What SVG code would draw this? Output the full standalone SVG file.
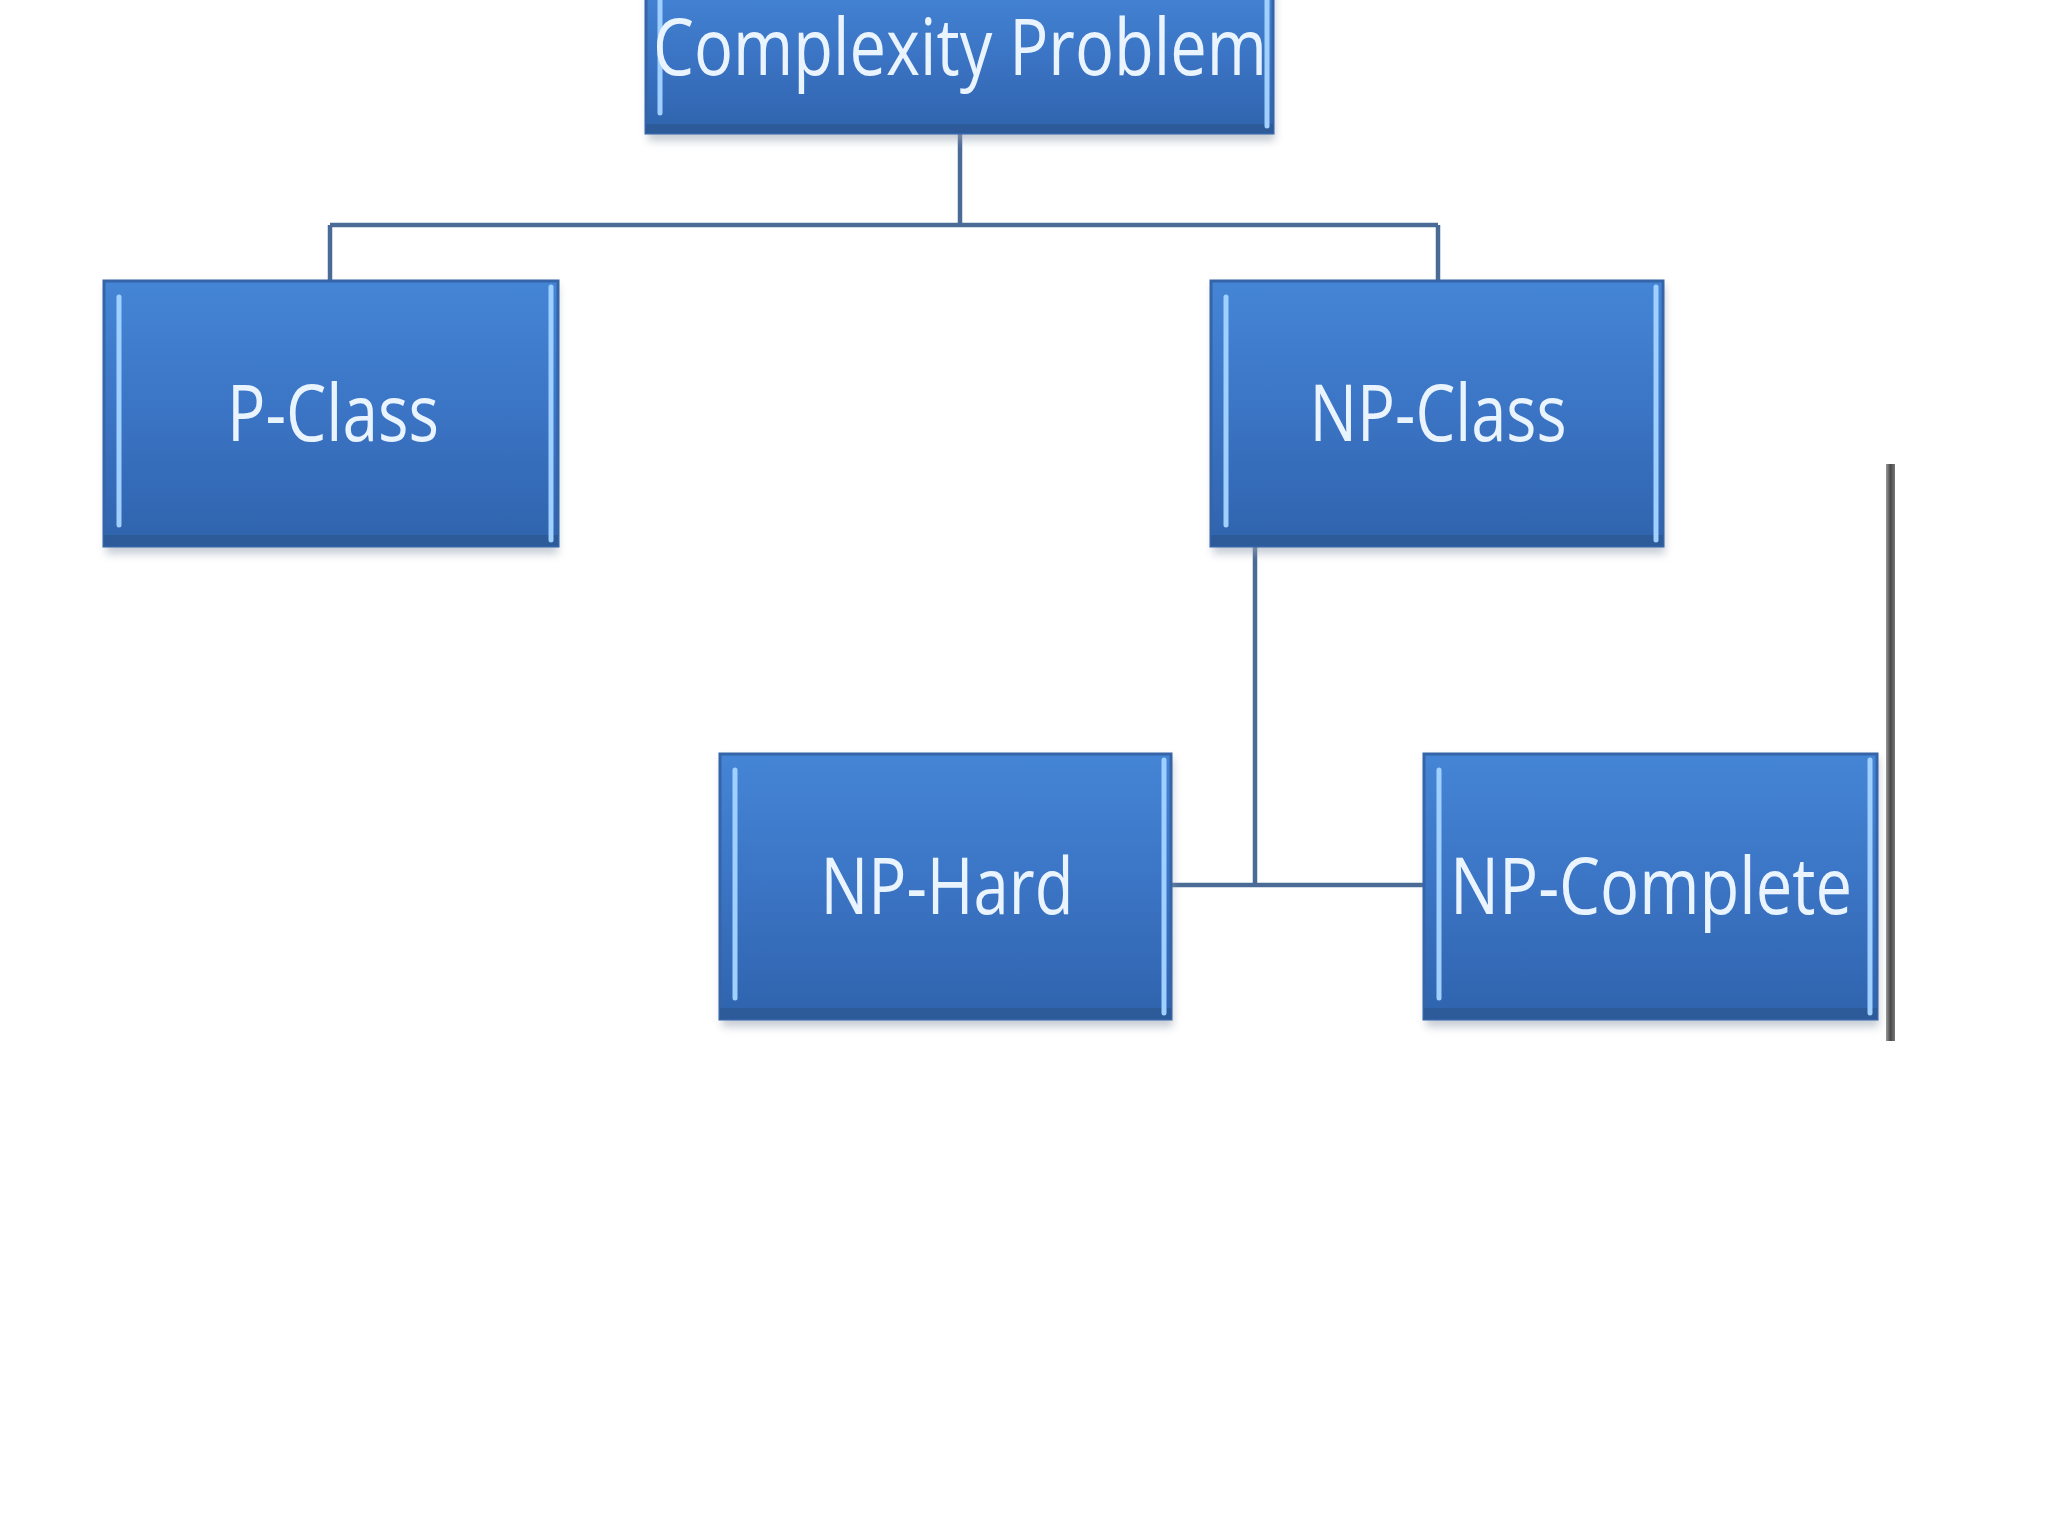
<svg xmlns="http://www.w3.org/2000/svg" width="2048" height="1536" viewBox="0 0 2048 1536">
<defs>
<linearGradient id="boxg" x1="0" y1="0" x2="0" y2="1">
<stop offset="0" stop-color="#4585d6"/>
<stop offset="0.5" stop-color="#3b74c4"/>
<stop offset="1" stop-color="#2f63ad"/>
</linearGradient>
<linearGradient id="barg" x1="0" y1="0" x2="1" y2="0">
<stop offset="0" stop-color="#9a9a9a"/>
<stop offset="0.5" stop-color="#4a4a4a"/>
<stop offset="1" stop-color="#777777"/>
</linearGradient>
<filter id="sh" x="-10%" y="-10%" width="120%" height="130%">
<feGaussianBlur stdDeviation="4"/>
</filter>
</defs>
<style>
.shadow{fill:#9aa4b4;opacity:0.55;filter:url(#sh)}
.box{fill:url(#boxg);stroke:#3565a8;stroke-width:3}
.bot{fill:#2d5a99}
.hl{stroke:#9fd0ff;stroke-width:5;stroke-linecap:round}
.lbl{font-family:"Open Sans","Noto Sans","DejaVu Sans",sans-serif;font-size:79px;fill:#eaf4ff;text-anchor:middle}
.conn{stroke:#4a6b96;stroke-width:4.5;fill:none}
</style>
<rect width="2048" height="1536" fill="#ffffff"/>
<g id="connectors">
<line class="conn" x1="960" y1="133" x2="960" y2="225"/>
<line class="conn" x1="330" y1="225" x2="1438" y2="225"/>
<line class="conn" x1="330" y1="225" x2="330" y2="281"/>
<line class="conn" x1="1438" y1="225" x2="1438" y2="281"/>
<line class="conn" x1="1255" y1="546" x2="1255" y2="885"/>
<line class="conn" x1="1171" y1="885" x2="1424" y2="885"/>
</g>
<g id="node-complexity">
<rect class="shadow" x="648" y="-20" width="627" height="161"/>
<rect class="box" x="646" y="-20" width="627" height="153"/>
<rect class="bot" x="646" y="124" width="627" height="9"/>
<line class="hl" x1="660" y1="0" x2="660" y2="113"/>
<line class="hl" x1="1267" y1="0" x2="1267" y2="126"/>
<text class="lbl" x="960" y="75" textLength="614" lengthAdjust="spacingAndGlyphs">Complexity Problem</text>
</g>
<g id="node-pclass">
<rect class="shadow" x="106" y="285" width="452" height="269"/>
<rect class="box" x="104" y="281" width="454" height="265"/>
<rect class="bot" x="104" y="535" width="454" height="11"/>
<line class="hl" x1="119" y1="297" x2="119" y2="525"/>
<line class="hl" x1="551" y1="287" x2="551" y2="540"/>
<text class="lbl" x="333" y="441" textLength="212" lengthAdjust="spacingAndGlyphs">P-Class</text>
</g>
<g id="node-npclass">
<rect class="shadow" x="1213" y="285" width="452" height="269"/>
<rect class="box" x="1211" y="281" width="452" height="265"/>
<rect class="bot" x="1211" y="535" width="452" height="11"/>
<line class="hl" x1="1226" y1="297" x2="1226" y2="525"/>
<line class="hl" x1="1656" y1="287" x2="1656" y2="540"/>
<text class="lbl" x="1438" y="441" textLength="257" lengthAdjust="spacingAndGlyphs">NP-Class</text>
</g>
<g id="node-nphard">
<rect class="shadow" x="722" y="758" width="451" height="269"/>
<rect class="box" x="720" y="754" width="451" height="265"/>
<rect class="bot" x="720" y="1008" width="451" height="11"/>
<line class="hl" x1="735" y1="770" x2="735" y2="998"/>
<line class="hl" x1="1164" y1="760" x2="1164" y2="1013"/>
<text class="lbl" x="947" y="914" textLength="253" lengthAdjust="spacingAndGlyphs">NP-Hard</text>
</g>
<g id="node-npcomplete">
<rect class="shadow" x="1426" y="758" width="453" height="269"/>
<rect class="box" x="1424" y="754" width="453" height="265"/>
<rect class="bot" x="1424" y="1008" width="453" height="11"/>
<line class="hl" x1="1439" y1="770" x2="1439" y2="998"/>
<line class="hl" x1="1870" y1="760" x2="1870" y2="1013"/>
<text class="lbl" x="1651" y="914" textLength="402" lengthAdjust="spacingAndGlyphs">NP-Complete</text>
</g>
<rect x="1886" y="464" width="9" height="577" fill="url(#barg)"/>
</svg>
